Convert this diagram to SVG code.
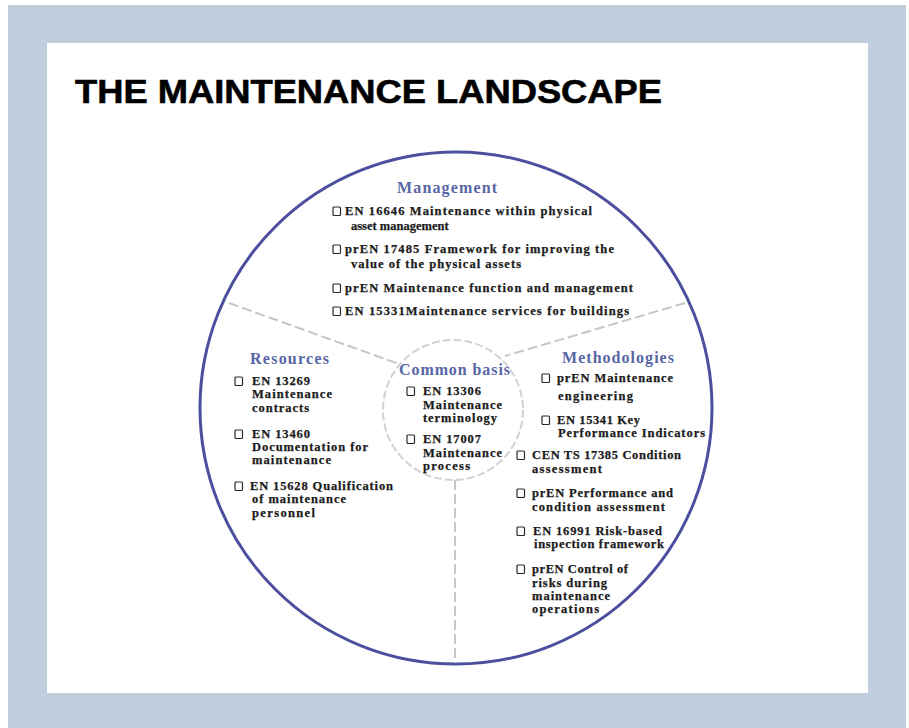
<svg xmlns="http://www.w3.org/2000/svg" xmlns:xlink="http://www.w3.org/1999/xlink" width="909" height="728" viewBox="0 0 909 728">
<defs>
<style>
.title{font-family:"Liberation Sans",Arial,sans-serif;font-weight:bold;font-size:34px;fill:#000;stroke:#000;stroke-width:0.6}
.hd{font-family:"Liberation Serif","Times New Roman",serif;font-weight:bold;font-size:16px;fill:#5866a6}
.it{font-family:"Liberation Serif","Times New Roman",serif;font-weight:bold;font-size:12.5px;fill:#1c1c1c;stroke:#1c1c1c;stroke-width:0.25}
.cb{fill:#fff;stroke:#2a2a2a;stroke-width:1.2}
.div{fill:none;stroke:#c6c6c6;stroke-width:2;stroke-dasharray:10 4}
</style>
<rect id="box" class="cb" x="0" y="0" width="7.5" height="8.5" rx="1"/>
</defs>
<rect x="0" y="0" width="909" height="728" fill="#ffffff"/>
<rect x="8" y="5" width="898" height="723" fill="#bfcddd"/>
<rect x="47" y="43" width="821" height="650" fill="#ffffff"/>
<text class="title" x="75" y="103" textLength="587" lengthAdjust="spacingAndGlyphs">THE MAINTENANCE LANDSCAPE</text>

<g id="outer-circle">
<circle cx="456" cy="408" r="256" fill="#ffffff" stroke="#4c4f9e" stroke-width="3"/>
</g>

<g id="connectors">
<line class="div" x1="229" y1="303" x2="399" y2="364"/>
<line class="div" x1="685" y1="303" x2="505" y2="356"/>
<line class="div" x1="455" y1="480" x2="455" y2="663"/>
</g>

<g id="common-basis">
<circle cx="453" cy="410" r="70" fill="none" stroke="#d2d2d2" stroke-width="2" stroke-dasharray="8 3"/>
<text class="hd" x="399" y="375" textLength="111">Common basis</text>
<use xlink:href="#box" x="407" y="387"/>
<text class="it" x="423" y="395" textLength="58">EN 13306</text>
<text class="it" x="423" y="409" textLength="79">Maintenance</text>
<text class="it" x="423" y="422" textLength="74">terminology</text>
<use xlink:href="#box" x="407" y="435"/>
<text class="it" x="423" y="443" textLength="58">EN 17007</text>
<text class="it" x="423" y="457" textLength="79">Maintenance</text>
<text class="it" x="423" y="470" textLength="47">process</text>
</g>

<g id="management">
<text class="hd" x="397" y="193" textLength="100">Management</text>
<use xlink:href="#box" x="333" y="207"/>
<text class="it" x="345" y="215" textLength="247">EN 16646 Maintenance within physical</text>
<text class="it" x="351" y="230">asset management</text>
<use xlink:href="#box" x="333" y="245"/>
<text class="it" x="345" y="253" textLength="269">prEN 17485 Framework for improving the</text>
<text class="it" x="351" y="268" textLength="170">value of the physical assets</text>
<use xlink:href="#box" x="333" y="284"/>
<text class="it" x="345" y="292" textLength="288">prEN Maintenance function and management</text>
<use xlink:href="#box" x="333" y="307"/>
<text class="it" x="345" y="315" textLength="284">EN 15331Maintenance services for buildings</text>
</g>

<g id="resources">
<text class="hd" x="250" y="364" textLength="79">Resources</text>
<use xlink:href="#box" x="235" y="377"/>
<text class="it" x="252" y="385" textLength="58">EN 13269</text>
<text class="it" x="252" y="398" textLength="80">Maintenance</text>
<text class="it" x="252" y="412" textLength="57">contracts</text>
<use xlink:href="#box" x="235" y="430"/>
<text class="it" x="252" y="438" textLength="58">EN 13460</text>
<text class="it" x="252" y="451" textLength="116">Documentation for</text>
<text class="it" x="252" y="464" textLength="79">maintenance</text>
<use xlink:href="#box" x="235" y="482"/>
<text class="it" x="250" y="490" textLength="143">EN 15628 Qualification</text>
<text class="it" x="252" y="503" textLength="94">of maintenance</text>
<text class="it" x="252" y="517" textLength="63">personnel</text>
</g>

<g id="methodologies">
<text class="hd" x="562" y="363" textLength="112">Methodologies</text>
<use xlink:href="#box" x="542" y="374"/>
<text class="it" x="557" y="382" textLength="116">prEN Maintenance</text>
<text class="it" x="558" y="400" textLength="75">engineering</text>
<use xlink:href="#box" x="542" y="416"/>
<text class="it" x="557" y="424" textLength="83">EN 15341 Key</text>
<text class="it" x="558" y="437" textLength="147">Performance Indicators</text>
<use xlink:href="#box" x="517" y="451"/>
<text class="it" x="532" y="459" textLength="149">CEN TS 17385 Condition</text>
<text class="it" x="532" y="473" textLength="70">assessment</text>
<use xlink:href="#box" x="517" y="489"/>
<text class="it" x="532" y="497" textLength="141">prEN Performance and</text>
<text class="it" x="532" y="511" textLength="133">condition assessment</text>
<use xlink:href="#box" x="517" y="527"/>
<text class="it" x="533" y="535" textLength="129">EN 16991 Risk-based</text>
<text class="it" x="534" y="548" textLength="130">inspection framework</text>
<use xlink:href="#box" x="517" y="565"/>
<text class="it" x="532" y="573" textLength="96">prEN Control of</text>
<text class="it" x="532" y="587" textLength="75">risks during</text>
<text class="it" x="532" y="600" textLength="78">maintenance</text>
<text class="it" x="532" y="613" textLength="67">operations</text>
</g>
</svg>
